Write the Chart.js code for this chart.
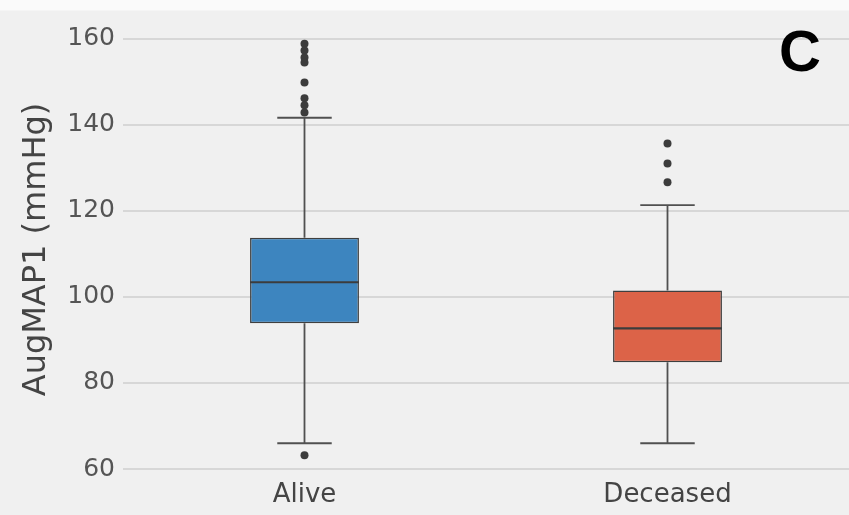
<!DOCTYPE html>
<html>
<head>
<meta charset="utf-8">
<script src="https://cdn.jsdelivr.net/npm/chart.js@4.4.1/dist/chart.umd.min.js"></script>
<style>
  html, body { margin: 0; padding: 0; }
  body { width: 849px; height: 515px; background: linear-gradient(to bottom, #fafafa 0px, #fafafa 10px, #f0f0f0 11px, #f0f0f0 100%); overflow: hidden; }
  #wrap { position: absolute; left: 0; top: 0; width: 849px; height: 515px; overflow: hidden; }
</style>
</head>
<body>
<div id="wrap"><canvas id="c" width="853" height="515"></canvas></div>
<script>
// ---- data ----
const categories   = ['Alive', 'Deceased'];
const q1Values     = [93.9, 84.8];
const medianValues = [103.4, 92.7];
const q3Values     = [113.7, 101.5];
const whiskerLow   = [66.0, 66.0];
const whiskerHigh  = [141.6, 121.3];
const outliersAlive    = [158.8, 157.2, 155.6, 154.4, 149.8, 146.1, 144.5, 142.8, 63.2];
const outliersDeceased = [135.6, 131.0, 126.6];
const yTickValues  = [60, 80, 100, 120, 140, 160];
const boxColors    = ['#3d85bf', '#dc6348'];
const panelLabel   = 'C';
const yTitle       = 'AugMAP1 (mmHg)';

const boxData = categories.map((c, i) => [q1Values[i], q3Values[i]]);
const outlierPoints = [
  ...outliersAlive.map(v => ({ x: categories[0], y: v })),
  ...outliersDeceased.map(v => ({ x: categories[1], y: v }))
];

const boxPlugin = {
  id: 'boxExtras',
  afterDatasetsDraw(chart) {
    const ctx = chart.ctx;
    const xs = chart.scales.x, ys = chart.scales.y;
    const catW = xs.getPixelForValue(1) - xs.getPixelForValue(0);
    ctx.save();
    categories.forEach((c, i) => {
      const cx = xs.getPixelForValue(i);
      const boxHalf = catW * 0.15;
      const capHalf = catW * 0.075;
      ctx.strokeStyle = '#505050';
      ctx.lineWidth = 1.8;
      ctx.beginPath();
      ctx.moveTo(cx, ys.getPixelForValue(q3Values[i]));
      ctx.lineTo(cx, ys.getPixelForValue(whiskerHigh[i]));
      ctx.moveTo(cx, ys.getPixelForValue(q1Values[i]));
      ctx.lineTo(cx, ys.getPixelForValue(whiskerLow[i]));
      ctx.moveTo(cx - capHalf, ys.getPixelForValue(whiskerHigh[i]));
      ctx.lineTo(cx + capHalf, ys.getPixelForValue(whiskerHigh[i]));
      ctx.moveTo(cx - capHalf, ys.getPixelForValue(whiskerLow[i]));
      ctx.lineTo(cx + capHalf, ys.getPixelForValue(whiskerLow[i]));
      ctx.stroke();
      ctx.strokeStyle = '#3c3c3c';
      ctx.lineWidth = 2.2;
      ctx.beginPath();
      ctx.moveTo(cx - boxHalf, ys.getPixelForValue(medianValues[i]));
      ctx.lineTo(cx + boxHalf, ys.getPixelForValue(medianValues[i]));
      ctx.stroke();
    });
    const ca = chart.chartArea;
    ctx.fillStyle = '#000';
    ctx.font = 'bold 58px "Liberation Sans", Arial, sans-serif';
    ctx.textAlign = 'center';
    ctx.textBaseline = 'alphabetic';
    ctx.fillText(panelLabel, ca.right - 49, ca.top + 48);
    ctx.restore();
  }
};

new Chart(document.getElementById('c'), {
  type: 'bar',
  data: {
    labels: categories,
    datasets: [
      {
        type: 'line',
        data: outlierPoints,
        showLine: false,
        pointStyle: 'circle',
        pointRadius: 4,
        pointBackgroundColor: '#3c3c3c',
        pointBorderColor: '#3c3c3c',
        pointBorderWidth: 0,
        order: 0
      },
      {
        type: 'bar',
        data: boxData,
        backgroundColor: boxColors,
        borderColor: '#3f3f3f',
        borderWidth: 1.5,
        borderSkipped: false,
        barPercentage: 0.3,
        categoryPercentage: 1.0,
        order: 1
      }
    ]
  },
  options: {
    responsive: false,
    animation: false,
    devicePixelRatio: 1,
    layout: { padding: { top: 22, right: 0, bottom: 0, left: 0 } },
    plugins: { legend: { display: false }, tooltip: { enabled: false } },
    scales: {
      x: {
        type: 'category',
        offset: true,
        grid: { display: false, drawTicks: false },
        border: { display: false },
        ticks: { color: '#444', font: { family: '"DejaVu Sans"', size: 26 }, padding: 4 },
        afterFit(s) { s.height = 39; }
      },
      y: {
        min: 58.4,
        max: 163.6,
        grid: { color: '#d7d7d7', lineWidth: 2, drawTicks: false },
        border: { display: false },
        ticks: { color: '#555', font: { family: '"DejaVu Sans"', size: 25 }, padding: 8 },
        afterBuildTicks(s) { s.ticks = yTickValues.map(v => ({ value: v })); },
        title: { display: true, text: yTitle, color: '#444', font: { family: '"DejaVu Sans"', size: 32 }, padding: { top: 17, bottom: 0 } },
        afterFit(s) { s.width = 123; }
      }
    }
  },
  plugins: [boxPlugin]
});
</script>
</body>
</html>
